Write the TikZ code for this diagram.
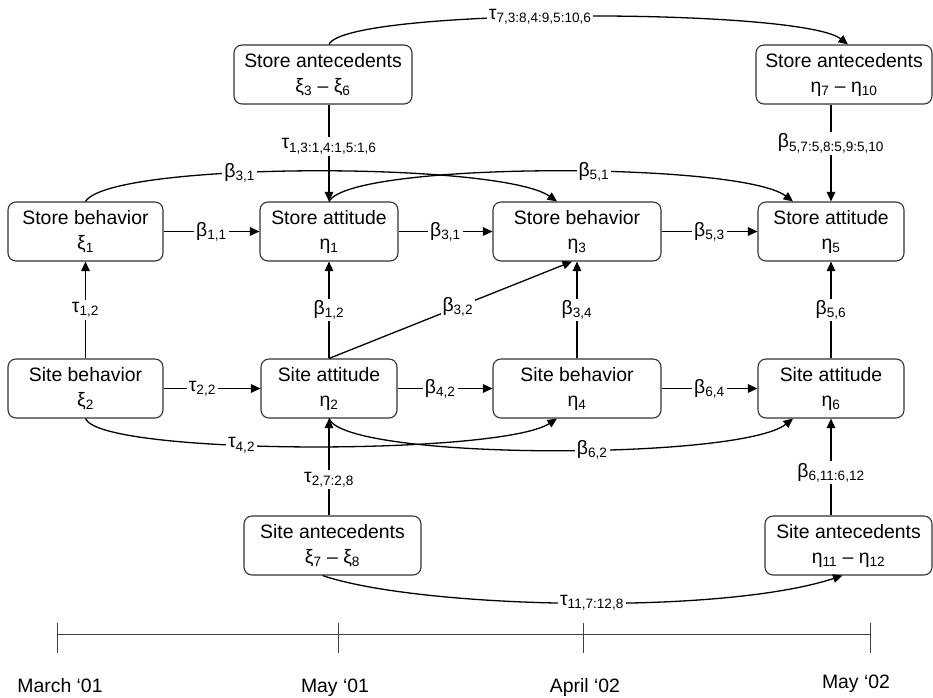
\documentclass[tikz,border=0pt]{standalone}
\usepackage{fontspec}
\setmainfont{Liberation Sans}
\usetikzlibrary{arrows.meta}
\colorlet{boxline}{black!80}
\colorlet{arrline}{black}
\colorlet{axisline}{black!75}

\begin{document}
\begin{tikzpicture}[
    x=1pt, y=-1pt,
    font=\fontsize{19.4}{25}\selectfont,
    >={Triangle[length=9.5pt, width=8.5pt]},
    latent/.style={draw=boxline, line width=1.1pt, rounded corners=8pt,
                   minimum height=59pt, inner sep=0pt, align=center},
    link/.style={->, line width=1.3pt, draw=arrline},
    coef/.style={fill=white, inner sep=2pt},
    timeaxis/.style={draw=axisline, line width=1pt},
    datelbl/.style={anchor=base},
]

\useasboundingbox (0,0) rectangle (933,697);

\def\rowant{74.5}
\def\rowstore{231.5}
\def\rowsite{388.5}
\def\rowsant{545.5}
\def\rowaxis{634}

% ════════════════════════════════════════════════════════════
% Antecedents (store, top; site, bottom)
% ════════════════════════════════════════════════════════════
\node[latent, minimum width=178pt] (SA1) at (323, \rowant)
    {Store antecedents\\ξ\textsubscript{3} – ξ\textsubscript{6}};
\node[latent, minimum width=176pt] (SA2) at (844, \rowant)
    {Store antecedents\\η\textsubscript{7} – η\textsubscript{10}};
\node[latent, minimum width=177pt] (xi7) at (332.5, \rowsant)
    {Site antecedents\\ξ\textsubscript{7} – ξ\textsubscript{8}};
\node[latent, minimum width=167pt] (eta11) at (848.5, \rowsant)
    {Site antecedents\\η\textsubscript{11} – η\textsubscript{12}};

% ════════════════════════════════════════════════════════════
% Store row and site row
% ════════════════════════════════════════════════════════════
\node[latent, minimum width=155pt] (xi1) at (85.5, \rowstore)
    {Store behavior\\ξ\textsubscript{1}};
\node[latent, minimum width=138pt] (eta1) at (329, \rowstore)
    {Store attitude\\η\textsubscript{1}};
\node[latent, minimum width=168pt] (eta3) at (577, \rowstore)
    {Store behavior\\η\textsubscript{3}};
\node[latent, minimum width=146pt] (eta5) at (831, \rowstore)
    {Store attitude\\η\textsubscript{5}};

\node[latent, minimum width=155pt] (xi2) at (85.5, \rowsite)
    {Site behavior\\ξ\textsubscript{2}};
\node[latent, minimum width=136pt] (eta2) at (329, \rowsite)
    {Site attitude\\η\textsubscript{2}};
\node[latent, minimum width=168pt] (eta4) at (577, \rowsite)
    {Site behavior\\η\textsubscript{4}};
\node[latent, minimum width=146pt] (eta6) at (831, \rowsite)
    {Site attitude\\η\textsubscript{6}};

% ── horizontal paths ──
\draw[link] (xi1) -- node[coef] {β\textsubscript{1,1}} (eta1);
\draw[link] (eta1) -- node[coef] {β\textsubscript{3,1}} (eta3);
\draw[link] (eta3) -- node[coef] {β\textsubscript{5,3}} (eta5);
\draw[link] (xi2) -- node[coef, pos=0.4] {τ\textsubscript{2,2}} (eta2);
\draw[link] (eta2) -- node[coef, pos=0.45] {β\textsubscript{4,2}} (eta4);
\draw[link] (eta4) -- node[coef] {β\textsubscript{6,4}} (eta6);

% ── vertical paths ──
\draw[link] (xi2) -- node[coef] {τ\textsubscript{1,2}} (xi1);
\draw[link] (eta2) -- node[coef] {β\textsubscript{1,2}} (eta1);
\draw[link] (eta4) -- node[coef] {β\textsubscript{3,4}} (eta3);
\draw[link] (eta6) -- node[coef] {β\textsubscript{5,6}} (eta5);
\draw[link] (eta2.north) -- node[coef, pos=0.53] {β\textsubscript{3,2}}
    ([xshift=-5pt]eta3.south);

\draw[link] (SA1.south -| eta1.north) -- node[coef, pos=0.43]
    {τ\textsubscript{1,3:1,4:1,5:1,6}} (eta1.north);
\draw[link] (SA2.south -| eta5.north) -- node[coef, pos=0.4]
    {β\textsubscript{5,7:5,8:5,9:5,10}} (eta5.north);
\draw[link] (xi7.north -| eta2.south) -- node[coef, pos=0.37]
    {τ\textsubscript{2,7:2,8}} (eta2.south);
\draw[link] (eta11.north -| eta6.south) -- node[coef, pos=0.44]
    {β\textsubscript{6,11:6,12}} (eta6.south);

% ── curved paths ──
\draw[link] (SA1.north -| eta1.north) .. controls +(16,-37) and +(-48,-37)
    .. node[coef, pos=0.45] {τ\textsubscript{7,3:8,4:9,5:10,6}}
    ([xshift=4pt]SA2.north);
\draw[link] (xi1.north) .. controls +(25,-40) and +(-57,-40)
    .. node[coef, pos=0.39] {β\textsubscript{3,1}} ([xshift=-20pt]eta3.north);
\draw[link] (eta1.north) .. controls +(21,-40) and +(-53,-40)
    .. node[coef, pos=0.57] {β\textsubscript{5,1}} ([xshift=-38pt]eta5.north);
\draw[link] (xi2.south) .. controls +(15,37) and +(-57,37)
    .. node[coef, pos=0.4] {τ\textsubscript{4,2}} ([xshift=-20pt]eta4.south);
\draw[link] (eta2.south) .. controls +(16,42) and +(-53,42)
    .. node[coef, pos=0.57] {β\textsubscript{6,2}} ([xshift=-38pt]eta6.south);
\draw[link] ([xshift=-10pt]xi7.south) .. controls +(98,33) and +(-122,40)
    .. node[coef, pos=0.53] {τ\textsubscript{11,7:12,8}} ([xshift=-6pt]eta11.south);

% ════════════════════════════════════════════════════════════
% Time axis
% ════════════════════════════════════════════════════════════
\coordinate (t1) at (57, \rowaxis);
\coordinate (t2) at (338, \rowaxis);
\coordinate (t3) at (583, \rowaxis);
\coordinate (t4) at (870, \rowaxis);

\draw[timeaxis] (t1) -- (t4);
\draw[timeaxis] (57,623) -- (57,653);
\draw[timeaxis] (338,623) -- (338,653);
\draw[timeaxis] (583,623) -- (583,653);
\draw[timeaxis] (870,623) -- (870,653);

\node[datelbl] (d1) at (60, 692) {March ‘01};
\node[datelbl] (d2) at (335, 692) {May ‘01};
\node[datelbl] (d3) at (585, 692) {April ‘02};
\node[datelbl] (d4) at (856, 688) {May ‘02};

\end{tikzpicture}
\end{document}
